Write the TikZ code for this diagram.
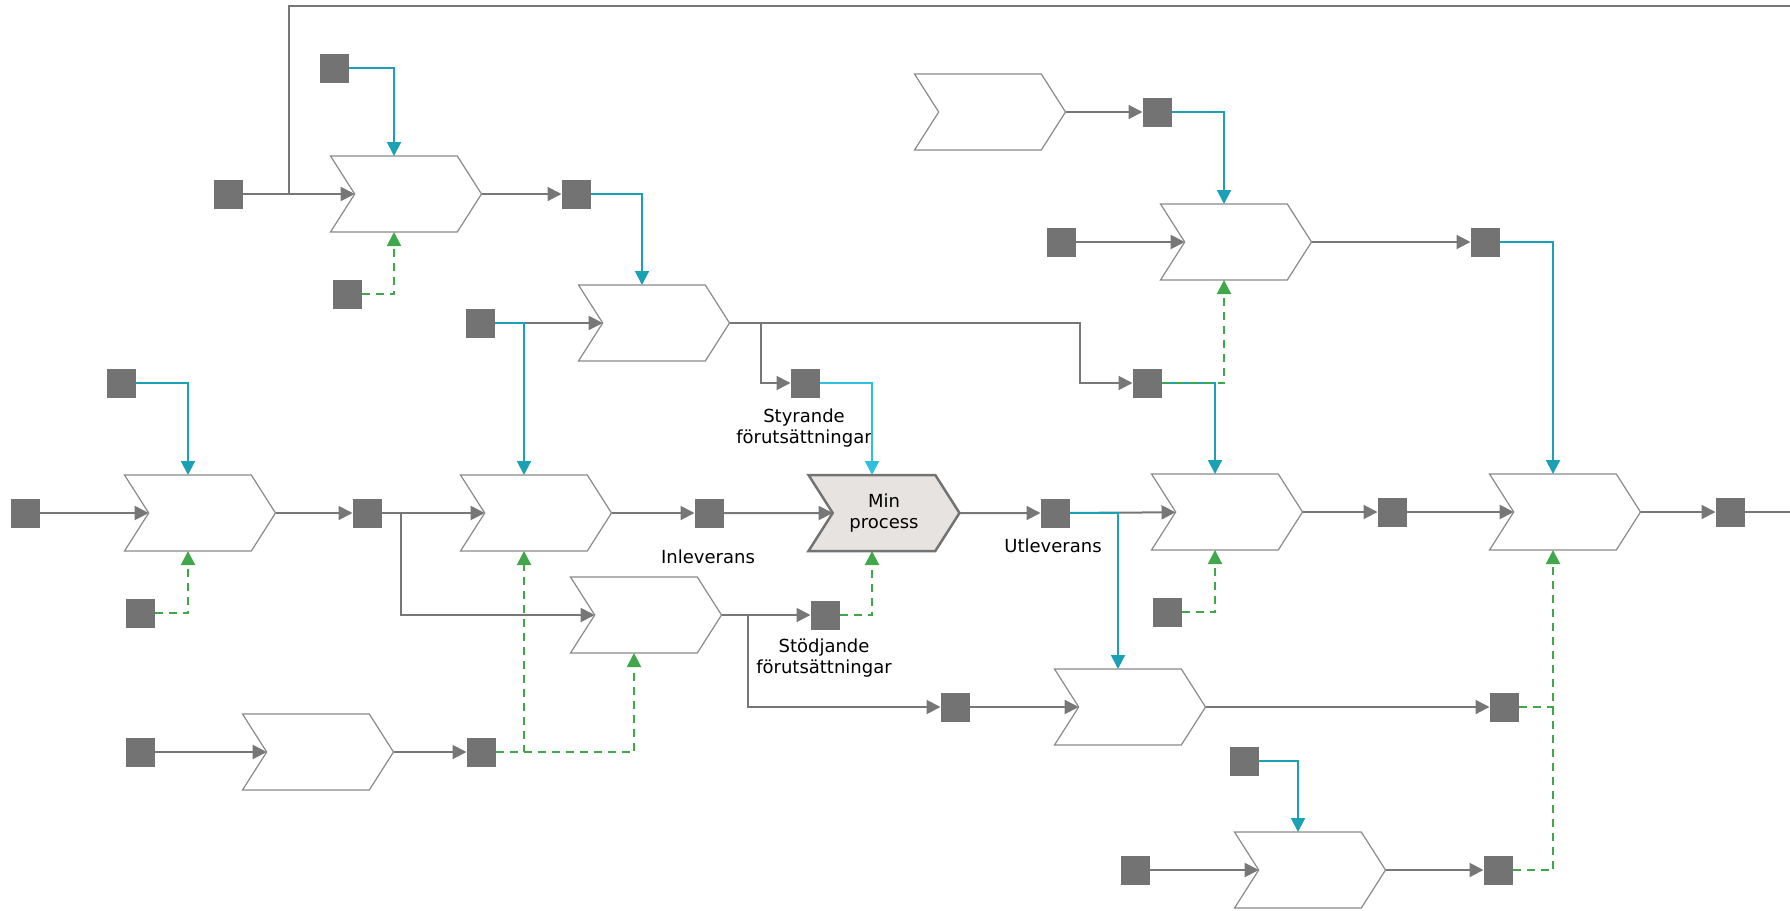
\documentclass[tikz,border=0pt]{standalone}
\usepackage{fontspec}
\setmainfont{DejaVu Sans}
\usetikzlibrary{arrows.meta, shapes.symbols, calc}

\definecolor{boxgrey}{HTML}{737373}
\definecolor{edgegrey}{HTML}{8A8A8A}
\definecolor{flowgrey}{HTML}{777777}
\definecolor{ctlteal}{HTML}{1BA1B6}
\definecolor{ctlcyan}{HTML}{2EC1DD}
\definecolor{suppgreen}{HTML}{40A84A}
\definecolor{mainfill}{HTML}{E7E3E0}

\begin{document}
\begin{tikzpicture}[x=1pt, y=-1pt,
    every node/.style={font=\fontsize{18}{21}\selectfont},
    proc/.style={signal, signal to=east, signal from=west, signal pointer angle=115, draw=edgegrey, line width=1.2pt, fill=white, minimum width=151pt, minimum height=76pt, inner sep=0pt, outer sep=0pt},
    mainproc/.style={proc, fill=mainfill, draw=boxgrey, line width=2.5pt, align=center},
    sq/.style={rectangle, fill=boxgrey, minimum size=29pt, inner sep=0pt, outer sep=0pt},
    tip/.style={-{Triangle[length=14pt, width=14pt]}},
    wire/.style={draw=flowgrey, line width=2pt},
    flow/.style={wire, tip},
    ctl/.style={tip, draw=ctlteal, line width=2pt},
    supp/.style={tip, draw=suppgreen, line width=2pt, dash pattern=on 8pt off 6pt},
    lbl/.style={align=center, text=black}
]
\useasboundingbox (0,0) rectangle (1790,910);

% processes
\node[proc] (p1)  at (406,194) {};
\node[proc] (p2)  at (654,323) {};
\node[proc] (p3)  at (990,112) {};
\node[proc] (p4)  at (1236,242) {};
\node[proc] (p5)  at (200,513) {};
\node[proc] (p6)  at (536,513) {};
\node[mainproc] (main) at (884,513) {Min\\process};
\node[proc] (p8)  at (1227,512) {};
\node[proc] (p9)  at (1565,512) {};
\node[proc] (p10) at (646,615) {};
\node[proc] (p11) at (1130,707) {};
\node[proc] (p12) at (318,752) {};
\node[proc] (p13) at (1310,870) {};

% objects
\node[sq] (r1)  at (334,68) {};
\node[sq] (r2)  at (228,194) {};
\node[sq] (r3)  at (347,294) {};
\node[sq] (r4)  at (576,194) {};
\node[sq] (r5)  at (480,323) {};
\node[sq] (r6)  at (805,383) {};
\node[sq] (r7)  at (1147,383) {};
\node[sq] (r8)  at (1157,112) {};
\node[sq] (r9)  at (1061,242) {};
\node[sq] (r10) at (1485,242) {};
\node[sq] (r11) at (121,383) {};
\node[sq] (r12) at (25,513) {};
\node[sq] (r13) at (140,613) {};
\node[sq] (r14) at (367,513) {};
\node[sq] (r15) at (709,513) {};
\node[sq] (r16) at (1055,513) {};
\node[sq] (r17) at (1167,612) {};
\node[sq] (r18) at (1392,512) {};
\node[sq] (r19) at (1730,512) {};
\node[sq] (r20) at (825,615) {};
\node[sq] (r21) at (955,707) {};
\node[sq] (r22) at (1504,707) {};
\node[sq] (r23) at (140,752) {};
\node[sq] (r24) at (481,752) {};
\node[sq] (r25) at (1244,761) {};
\node[sq] (r26) at (1135,870) {};
\node[sq] (r27) at (1498,870) {};

\node[lbl] (styr)  at (804,428) {Styrande\\förutsättningar};
\node[lbl] (inlev) at (708,557) {Inleverans};
\node[lbl] (utlev) at (1053,546) {Utleverans};
\node[lbl] (stod)  at (824,658) {Stödjande\\förutsättningar};

\coordinate (topjoin) at (289,194);
\coordinate (topend)  at (1790,6);
\coordinate (rowend)  at (1790,512);

% flow
\draw[flow] (r2) -- (p1);
\draw[wire] (topjoin) |- (topend);
\draw[flow] (p1) -- (r4);
\draw[flow] (r5) -- (p2);
\draw[flow] (p2.east) -- ++(31,0) |- (r6);
\draw[flow] (p2.east) -- ++(350,0) |- (r7);
\draw[flow] (p3) -- (r8);
\draw[flow] (r9) -- (p4);
\draw[flow] (p4) -- (r10);
\draw[flow] (r12) -- (p5);
\draw[flow] (p5) -- (r14);
\draw[flow] (r14) -- (p6);
\draw[flow] (r14.east) -- ++(19,0) |- (p10);
\draw[flow] (p6) -- (r15);
\draw[flow] (r15) -- (main);
\draw[flow] (main) -- (r16);
\draw[flow] (r16) -- (p8);
\draw[flow] (p8) -- (r18);
\draw[flow] (r18) -- (p9);
\draw[flow] (p9) -- (r19);
\draw[wire] (r19) -- (rowend);
\draw[flow] (p10) -- (r20);
\draw[flow] (p10.east) -- ++(26,0) |- (r21);
\draw[flow] (r21) -- (p11);
\draw[flow] (p11) -- (r22);
\draw[flow] (r23) -- (p12);
\draw[flow] (p12) -- (r24);
\draw[flow] (r26) -- (p13);
\draw[flow] (p13) -- (r27);

% control
\draw[ctl] (r1.east) -| ([xshift=-12pt]p1.north);
\draw[ctl] (r4.east) -| ([xshift=-12pt]p2.north);
\draw[ctl] (r5.east) -| ([xshift=-12pt]p6.north);
\draw[ctl, draw=ctlcyan] (r6.east) -| ([xshift=-12pt]main.north);
\draw[ctl] (r8.east) -| ([xshift=-12pt]p4.north);
\draw[ctl] (r7.east) -| ([xshift=-12pt]p8.north);
\draw[ctl] (r10.east) -| ([xshift=-12pt]p9.north);
\draw[ctl] (r11.east) -| ([xshift=-12pt]p5.north);
\draw[ctl] (r16.east) -| ([xshift=-12pt]p11.north);
\draw[ctl] (r25.east) -| ([xshift=-12pt]p13.north);

% support
\draw[supp] (r3.east) -| ([xshift=-12pt]p1.south);
\draw[supp] (r7.east) -| ([xshift=-12pt]p4.south);
\draw[supp] (r13.east) -| ([xshift=-12pt]p5.south);
\draw[supp] (r24.east) -| ([xshift=-12pt]p6.south);
\draw[supp] (r24.east) -| ([xshift=-12pt]p10.south);
\draw[supp] (r20.east) -| ([xshift=-12pt]main.south);
\draw[supp] (r17.east) -| ([xshift=-12pt]p8.south);
\draw[supp] (r27.east) -| ([xshift=-12pt]p9.south);
\draw[supp, -] (r22.east) -- ++(35,0);
\end{tikzpicture}
\end{document}
